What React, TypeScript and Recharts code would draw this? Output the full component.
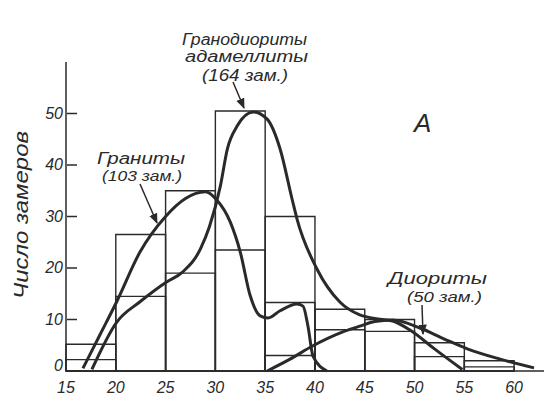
import React from 'react';
import { ComposedChart, Line, XAxis, YAxis, ReferenceArea } from 'recharts';

// Histogram bins (start of each 5-unit class) and stacked outline levels
const binStarts = [15, 20, 25, 30, 35, 40, 45, 50, 55];
const binWidth = 5;
const histUpper = [5.2, 26.5, 35, 50.5, 30, 12, 10, 5.5, 2];
const histMiddle = [2.2, 14.5, 19, 23.5, 13.3, 8, 7.7, 2.8, 0.8];
const histLower: (number | null)[] = [null, null, null, null, 3, null, null, null, null];

const xTicks = [15, 20, 25, 30, 35, 40, 45, 50, 55, 60];
const yTicks = [0, 10, 20, 30, 40, 50];

// Граниты (103 зам.)
const graniteX = [16.7, 18.4, 20.1, 22.4, 25, 27, 29, 30.1, 31.5, 32.5, 33.5, 34.5, 35.3, 36.5, 38.2, 38.8, 39.3, 39.8, 41.2];
const graniteY = [0.5, 7, 13.5, 23, 30, 33.5, 34.8, 33.3, 28.9, 23.1, 14.6, 10.7, 10.3, 11.7, 13, 12.6, 8.7, 2.9, 0];

// Гранодиориты, адамеллиты (164 зам.)
const granodX = [17.6, 20.1, 22.4, 25.1, 26.7, 28.5, 29.4, 30.5, 31.2, 32.2, 33.8, 35.2, 36.5, 37.7, 38.2, 40.2, 42.5, 44.5, 46, 47.8, 49.5, 52, 54.8];
const granodY = [0.3, 9.5, 13.4, 17.3, 19.2, 23.7, 28, 35.9, 43.1, 47.6, 50.3, 48.9, 43.1, 33.4, 29.5, 19.8, 13.4, 10.9, 10.2, 9.7, 8, 4.3, 0.3];

// Диориты (50 зам.)
const dioriteX = [35.2, 37.5, 39.8, 42.8, 44.5, 46, 47.8, 50.6, 53, 55.3, 58.6, 62];
const dioriteY = [0, 2.3, 4.9, 7.6, 8.7, 9.6, 9.9, 8.3, 6.2, 4.3, 2.3, 0.6];

const toPts = (xs: number[], ys: number[]) => xs.map((x, i) => ({ x, y: ys[i] }));
const granite = toPts(graniteX, graniteY);
const granod = toPts(granodX, granodY);
const diorite = toPts(dioriteX, dioriteY);

const INK = '#2a2a2a';
const FONT = "'Liberation Sans', 'DejaVu Sans', sans-serif";

const YTick = (props: any) => {
  const { x, y, payload } = props;
  return (
    <g>
      <text x={x} y={y} dy={payload.value === 0 ? 0 : 5} textAnchor="end" fontStyle="italic" fontSize={16} fontFamily={FONT} fill={INK}>
        {payload.value}
      </text>
      <line x1={x + 4} x2={x + 14} y1={y} y2={y} stroke={INK} strokeWidth={1.5} />
    </g>
  );
};

const XTick = (props: any) => {
  const { x, y, payload } = props;
  return (
    <text x={x} y={y} dy={16} textAnchor="middle" fontStyle="italic" fontSize={16} fontFamily={FONT} fill={INK}>
      {payload.value}
    </text>
  );
};

const layers = [histUpper, histMiddle, histLower];

export default function App() {
  return (
    <div style={{ position: 'absolute', left: 0, top: 0, width: 550, height: 401, background: '#fff' }}>
      <ComposedChart width={550} height={401} margin={{ top: 62, right: 6, bottom: 0, left: 16 }}>
        <XAxis
          dataKey="x"
          type="number"
          domain={[15, 63]}
          ticks={xTicks}
          allowDuplicatedCategory={false}
          height={30}
          tickSize={0}
          tickMargin={6}
          tickLine={false}
          tick={<XTick />}
          axisLine={{ stroke: INK, strokeWidth: 1.5 }}
        />
        <YAxis
          type="number"
          domain={[0, 60]}
          ticks={yTicks}
          width={50}
          tickSize={3}
          tickMargin={0}
          tickLine={false}
          tick={<YTick />}
          axisLine={{ stroke: INK, strokeWidth: 1.5 }}
        />
        {layers.map((layer, li) =>
          binStarts.map((b, i) =>
            layer[i] == null ? null : (
              <ReferenceArea
                key={`h${li}-${i}`}
                x1={b}
                x2={b + binWidth}
                y1={0}
                y2={layer[i] as number}
                fill="none"
                fillOpacity={0}
                stroke={INK}
                strokeWidth={1.4}
                ifOverflow="visible"
              />
            )
          )
        )}
        <Line data={granite} dataKey="y" type="monotone" stroke={INK} strokeWidth={3} dot={false} isAnimationActive={false} />
        <Line data={granod} dataKey="y" type="monotone" stroke={INK} strokeWidth={3} dot={false} isAnimationActive={false} />
        <Line data={diorite} dataKey="y" type="monotone" stroke={INK} strokeWidth={3} dot={false} isAnimationActive={false} />
      </ComposedChart>
      <svg width={550} height={401} style={{ position: 'absolute', left: 0, top: 0, pointerEvents: 'none' }}>
        <defs>
          <marker id="arr" viewBox="0 0 10 10" refX="9" refY="5" markerWidth="7" markerHeight="7" orient="auto">
            <path d="M0,1 L10,5 L0,9 z" fill={INK} />
          </marker>
        </defs>
        <g fontFamily={FONT} fontStyle="italic" fill={INK}>
          <text x={28} y={215} fontSize={20} textAnchor="middle" transform="rotate(-90 28 215)" textLength={168} lengthAdjust="spacingAndGlyphs">
            Число замеров
          </text>
          <text x={182} y={45} fontSize={16} textLength={125} lengthAdjust="spacingAndGlyphs">Гранодиориты</text>
          <text x={185} y={62} fontSize={16} textLength={123} lengthAdjust="spacingAndGlyphs">адамеллиты</text>
          <text x={202} y={81} fontSize={16} textLength={86} lengthAdjust="spacingAndGlyphs">(164 зам.)</text>
          <text x={97} y={164} fontSize={16} textLength={88} lengthAdjust="spacingAndGlyphs">Граниты</text>
          <text x={102} y={181} fontSize={14} textLength={80} lengthAdjust="spacingAndGlyphs">(103 зам.)</text>
          <text x={388} y={284} fontSize={16} textLength={99} lengthAdjust="spacingAndGlyphs">Диориты</text>
          <text x={407} y={302} fontSize={15} textLength={75} lengthAdjust="spacingAndGlyphs">(50 зам.)</text>
          <text x={414} y={132} fontSize={26}>А</text>
        </g>
        <line x1={233} y1={82} x2={244} y2={108} stroke={INK} strokeWidth={1.5} markerEnd="url(#arr)" />
        <line x1={140} y1={184} x2={157} y2={223} stroke={INK} strokeWidth={1.5} markerEnd="url(#arr)" />
        <line x1={422} y1={305} x2={423} y2={334} stroke={INK} strokeWidth={1.5} markerEnd="url(#arr)" />
      </svg>
    </div>
  );
}
